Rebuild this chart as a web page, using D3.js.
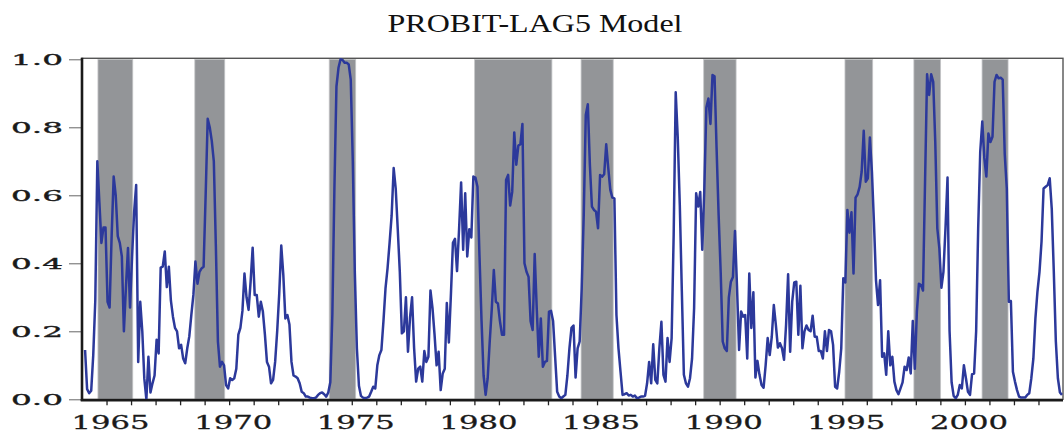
<!DOCTYPE html>
<meta charset="utf-8">
<style>
  body {margin: 0; background: #fff;}
  svg {display: block;}
</style>
<svg width="1064" height="435"></svg>
<script src="https://d3js.org/d3.v7.min.js"></script>
<script>
  // ---------------------------------------------------------------------------
  // data (monthly, first observation 1964:02)
  // ---------------------------------------------------------------------------
  const startYear = 1964, startMonth = 2;

  const probability = [
    0.145, 0.03, 0.018, 0.025, 0.13, 0.29, 0.70, 0.58, 0.46, 0.505,
    0.505, 0.287, 0.27, 0.48, 0.655, 0.60, 0.48, 0.46, 0.42, 0.20,
    0.33, 0.445, 0.27, 0.42, 0.55, 0.63, 0.11, 0.287, 0.20, 0.06,
    0.0, 0.125, 0.02, 0.047, 0.07, 0.175, 0.135, 0.387, 0.39, 0.435,
    0.33, 0.39, 0.29, 0.243, 0.21, 0.20, 0.15, 0.16, 0.12, 0.106,
    0.15, 0.185, 0.248, 0.307, 0.405, 0.34, 0.375, 0.385, 0.39, 0.60,
    0.825, 0.80, 0.76, 0.70, 0.45, 0.17, 0.096, 0.11, 0.10, 0.042,
    0.032, 0.062, 0.057, 0.062, 0.09, 0.19, 0.21, 0.26, 0.37, 0.30,
    0.263, 0.346, 0.446, 0.307, 0.307, 0.243, 0.287, 0.258, 0.19, 0.11,
    0.096, 0.047, 0.057, 0.11, 0.20, 0.31, 0.452, 0.366, 0.238, 0.248,
    0.22, 0.11, 0.07, 0.067, 0.062, 0.047, 0.022, 0.018, 0.008, 0.008,
    0.005, 0.003, 0.003, 0.005, 0.013, 0.018, 0.02, 0.015, 0.008, 0.02,
    0.05, 0.25, 0.62, 0.92, 0.975, 1.0, 0.998, 0.99, 0.99, 0.985,
    0.94, 0.70, 0.37, 0.15, 0.04, 0.01, 0.005, 0.003, 0.005, 0.008,
    0.022, 0.037, 0.032, 0.10, 0.13, 0.145, 0.23, 0.326, 0.385, 0.46,
    0.54, 0.68, 0.62, 0.50, 0.375, 0.194, 0.20, 0.30, 0.14, 0.24,
    0.30, 0.15, 0.052, 0.09, 0.096, 0.052, 0.142, 0.11, 0.125, 0.32,
    0.268, 0.19, 0.10, 0.14, 0.027, 0.076, 0.09, 0.283, 0.167, 0.307,
    0.46, 0.472, 0.377, 0.50, 0.638, 0.44, 0.606, 0.42, 0.50, 0.476,
    0.655, 0.652, 0.625, 0.42, 0.23, 0.07, 0.013, 0.062, 0.17, 0.265,
    0.38, 0.287, 0.282, 0.23, 0.19, 0.19, 0.645, 0.66, 0.57, 0.61,
    0.785, 0.69, 0.746, 0.75, 0.81, 0.40, 0.375, 0.36, 0.23, 0.204,
    0.427, 0.268, 0.125, 0.238, 0.096, 0.11, 0.113, 0.258, 0.26, 0.23,
    0.125, 0.022, 0.008, 0.003, 0.008, 0.013, 0.07, 0.15, 0.21, 0.217,
    0.064, 0.15, 0.17, 0.326, 0.542, 0.836, 0.868, 0.69, 0.567, 0.557,
    0.552, 0.503, 0.66, 0.655, 0.662, 0.75, 0.68, 0.616, 0.593, 0.591,
    0.248, 0.15, 0.081, 0.013, 0.015, 0.018, 0.011, 0.013, 0.008, 0.011,
    0.003, 0.005, 0.008, 0.008, 0.01, 0.047, 0.11, 0.047, 0.162, 0.057,
    0.047, 0.15, 0.228, 0.072, 0.052, 0.18, 0.11, 0.18, 0.483, 0.903,
    0.77, 0.572, 0.317, 0.072, 0.047, 0.037, 0.062, 0.12, 0.268, 0.606,
    0.567, 0.61, 0.44, 0.62, 0.858, 0.885, 0.81, 0.954, 0.95, 0.738,
    0.542, 0.375, 0.17, 0.15, 0.142, 0.30, 0.346, 0.36, 0.495, 0.33,
    0.145, 0.258, 0.243, 0.248, 0.12, 0.37, 0.21, 0.315, 0.064, 0.113,
    0.072, 0.042, 0.034, 0.10, 0.18, 0.13, 0.184, 0.277, 0.219, 0.152,
    0.165, 0.15, 0.116, 0.219, 0.368, 0.14, 0.287, 0.344, 0.346, 0.19,
    0.334, 0.15, 0.20, 0.217, 0.204, 0.20, 0.246, 0.184, 0.184, 0.142,
    0.142, 0.12, 0.20, 0.142, 0.204, 0.20, 0.16, 0.037, 0.032, 0.081,
    0.15, 0.356, 0.344, 0.557, 0.49, 0.55, 0.37, 0.593, 0.603, 0.625,
    0.67, 0.79, 0.64, 0.65, 0.77, 0.67, 0.52, 0.35, 0.277, 0.35,
    0.125, 0.135, 0.072, 0.20, 0.10, 0.125, 0.052, 0.027, 0.015, 0.032,
    0.05, 0.096, 0.086, 0.123, 0.076, 0.23, 0.09, 0.258, 0.34, 0.336,
    0.32, 0.64, 0.956, 0.895, 0.956, 0.934, 0.757, 0.503, 0.444, 0.328,
    0.375, 0.503, 0.652, 0.20, 0.05, 0.01, 0.003, 0.013, 0.042, 0.032,
    0.10, 0.062, 0.022, 0.013, 0.074, 0.076, 0.20, 0.503, 0.728, 0.817,
    0.71, 0.655, 0.782, 0.757, 0.772, 0.934, 0.954, 0.944, 0.946, 0.94,
    0.72, 0.62, 0.287, 0.289, 0.081, 0.052, 0.027, 0.008, 0.005, 0.005,
    0.005, 0.013, 0.018, 0.062, 0.12, 0.238, 0.317, 0.375, 0.464, 0.62,
    0.625, 0.63, 0.65, 0.56, 0.375, 0.17, 0.062, 0.02, 0.013
  ];

  // shaded periods, decimal years
  const shadeStart = [1964.65, 1968.60, 1974.08, 1980.01, 1984.35, 1989.35, 1995.11, 1997.92, 2000.70];
  const shadeEnd   = [1966.07, 1969.82, 1975.16, 1983.16, 1985.66, 1990.67, 1996.24, 1999.01, 2001.76];

  const yTicks = [0, 0.2, 0.4, 0.6, 0.8, 1.0];
  const yTickLabels = ["0.0", "0.2", "0.4", "0.6", "0.8", "1.0"];
  const xLabelYears = [1965, 1970, 1975, 1980, 1985, 1990, 1995, 2000];

  // ---------------------------------------------------------------------------
  // layout
  // ---------------------------------------------------------------------------
  const plotLeft = 82, plotRight = 1063, plotTop = 59.3, plotBottom = 399.3;

  const svg = d3.select("svg");

  const x = d3.scaleLinear().domain([1964, 2004]).range([plotLeft, plotRight]);
  const y = d3.scaleLinear().domain([0, 1]).range([plotBottom, plotTop]);

  // month i is drawn at its middle
  const series = probability.map(function(v, i) {
    return {t: startYear + (startMonth - 1 + i + 0.5) / 12, v: v};
  });

  // ---------------------------------------------------------------------------
  // title
  // ---------------------------------------------------------------------------
  svg.append("text")
    .attr("x", 535).attr("y", 32)
    .attr("text-anchor", "middle")
    .attr("textLength", 295).attr("lengthAdjust", "spacingAndGlyphs")
    .style("font-family", "'Liberation Serif', 'Times New Roman', serif")
    .style("font-size", "25px")
    .style("fill", "#111")
    .text("PROBIT-LAG5 Model");

  // ---------------------------------------------------------------------------
  // shading
  // ---------------------------------------------------------------------------
  svg.append("g").selectAll("rect")
    .data(d3.range(shadeStart.length)).enter()
    .append("rect")
      .attr("x", function(k) { return x(shadeStart[k]); })
      .attr("y", y(1))
      .attr("width", function(k) { return x(shadeEnd[k]) - x(shadeStart[k]); })
      .attr("height", y(0) - y(1))
      .style("fill", "#939598")
      .style("stroke", "#c4c5c7")
      .style("stroke-width", 0.8);

  // ---------------------------------------------------------------------------
  // frame
  // ---------------------------------------------------------------------------
  svg.append("rect")
    .attr("x", plotLeft).attr("y", plotTop - 1)
    .attr("width", plotRight - plotLeft).attr("height", plotBottom - plotTop + 1)
    .style("fill", "none").style("stroke", "#555").style("stroke-width", 1.4);

  // ---------------------------------------------------------------------------
  // series
  // ---------------------------------------------------------------------------
  const line = d3.line()
    .x(function(d) { return x(d.t); })
    .y(function(d) { return y(d.v); });

  svg.append("path")
    .datum(series)
    .attr("d", line)
    .style("fill", "none")
    .style("stroke", "#2c399b")
    .style("stroke-width", 2.5)
    .style("stroke-linejoin", "round");

  // ---------------------------------------------------------------------------
  // axes
  // ---------------------------------------------------------------------------
  const yAxis = svg.append("g")
    .attr("transform", "translate(" + plotLeft + ",0)")
    .call(d3.axisLeft(y).tickValues(yTicks).tickSize(13).tickFormat(""));
  yAxis.select(".domain").remove();
  yAxis.selectAll(".tick line").style("stroke", "#666").style("stroke-width", 1);

  yAxis.selectAll(".tick").append("text")
    .attr("x", -19).attr("dy", "0.36em")
    .attr("text-anchor", "end")
    .attr("textLength", 52).attr("lengthAdjust", "spacingAndGlyphs")
    .style("font-family", "'DejaVu Serif', serif")
    .style("font-size", "15px")
    .style("fill", "#1a1a1a")
    .style("stroke", "#1a1a1a").style("stroke-width", 0.35)
    .text(function(d, i) { return yTickLabels[i]; });

  const xAxis = svg.append("g")
    .attr("transform", "translate(0," + (plotBottom + 1) + ")")
    .call(d3.axisBottom(x).tickValues(d3.range(1965, 2004)).tickSize(5).tickFormat(""));
  xAxis.select(".domain").remove();
  xAxis.selectAll(".tick line").style("stroke", "#222").style("stroke-width", 1.3);

  svg.append("g").selectAll("text")
    .data(xLabelYears).enter()
    .append("text")
      .attr("x", function(d) { return x(d) + 4; })
      .attr("y", 429)
      .attr("text-anchor", "middle")
      .attr("textLength", 78).attr("lengthAdjust", "spacingAndGlyphs")
      .style("font-family", "'DejaVu Serif', serif")
      .style("font-size", "19px")
      .style("fill", "#1a1a1a")
      .style("stroke", "#1a1a1a").style("stroke-width", 0.3)
      .text(function(d) { return d; });

  // heavy left and bottom axis lines
  svg.append("line")
    .attr("x1", plotLeft).attr("x2", plotLeft).attr("y1", plotTop - 1.5).attr("y2", plotBottom + 1.5)
    .style("stroke", "#1a1a1a").style("stroke-width", 2.6);
  svg.append("line")
    .attr("x1", plotLeft - 1.3).attr("x2", plotRight).attr("y1", plotBottom + 1).attr("y2", plotBottom + 1)
    .style("stroke", "#1a1a1a").style("stroke-width", 2.4);
</script>
